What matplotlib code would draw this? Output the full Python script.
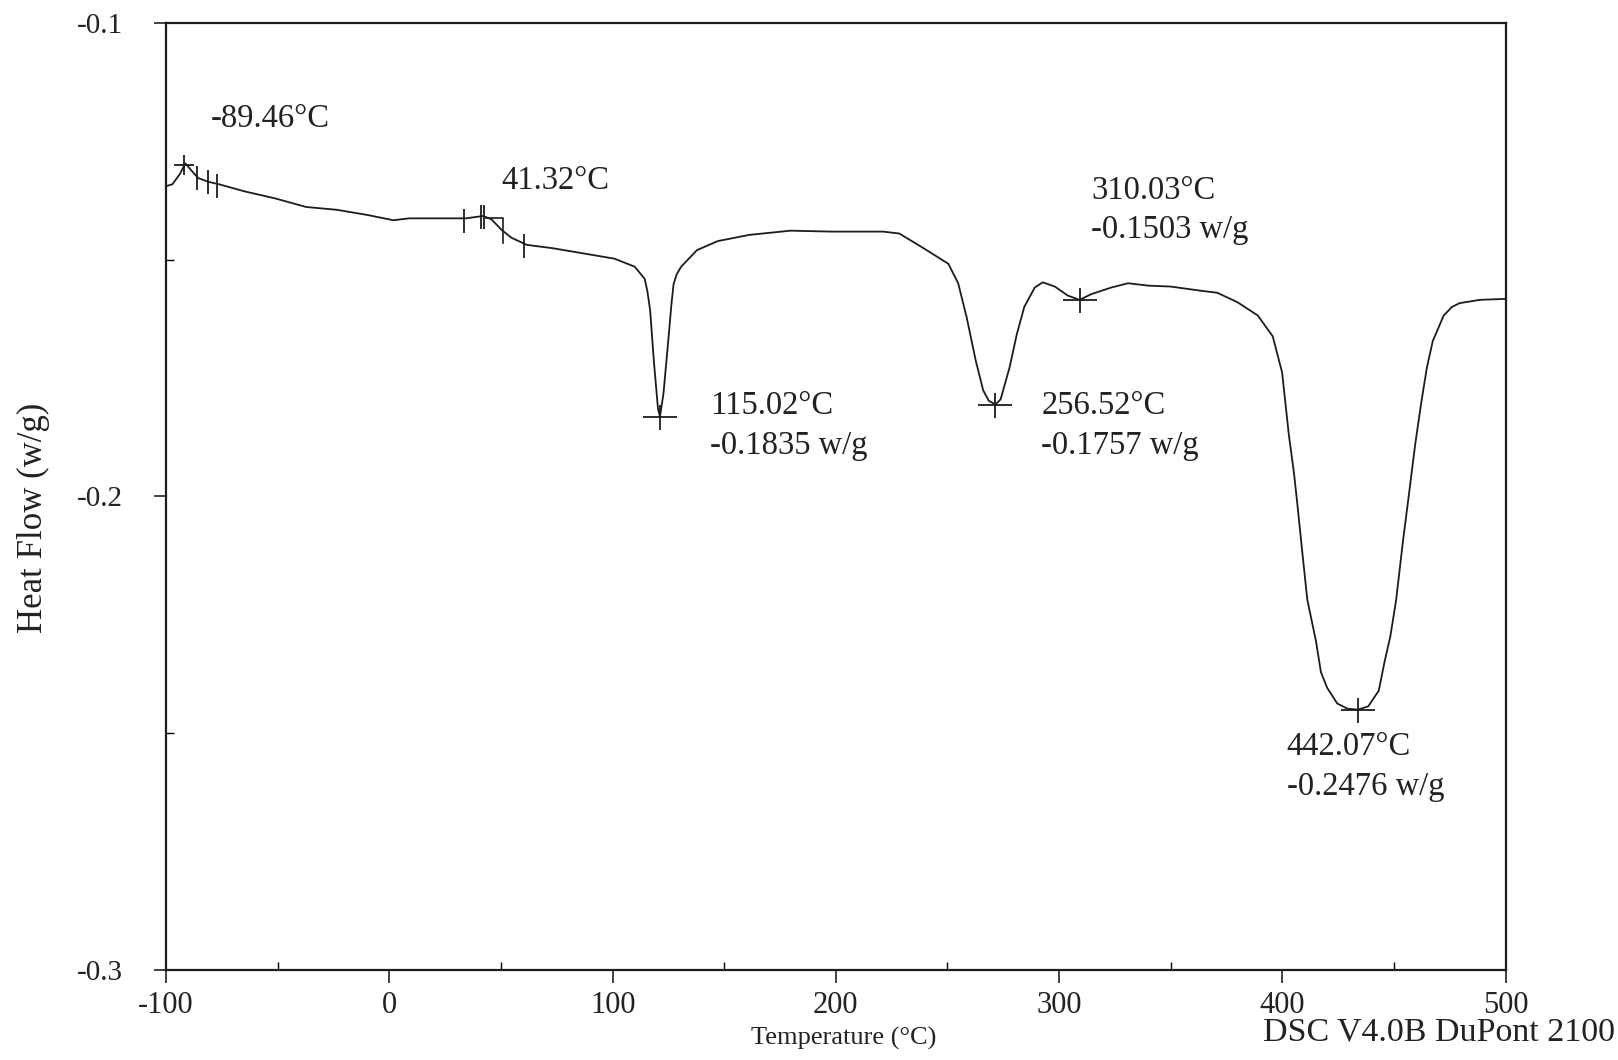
import matplotlib.pyplot as plt
import numpy as np
from matplotlib.path import Path

# DSC trace
temps = [-100, -97.2, -93.8, -91.4, -88.7, -85.6, -81.0, -76.4, -64.9, -51.1,
         -37.3, -23.5, -9.7, 1.8, 8.8, 22.6, 34.2, 42.0, 45.7, 50.2,
         54.7, 61.6, 73.1, 86.9, 100.7, 109.9, 114.4, 115.6, 116.8, 118.5,
         120.3, 121.2, 122.8, 125.3, 126.3, 127.3, 128.7, 130.7, 137.8, 147.1,
         161.1, 179.6, 198.1, 221.2, 228.4, 238.6, 250.4, 254.8, 258.6, 262.7,
         266.0, 268.5, 271.5, 273.8, 277.8, 281.1, 284.4, 289.1, 292.7, 298.1,
         303.9, 309.2, 314.4, 323.4, 330.9, 339.9, 350.0, 363.8, 370.8, 379.9,
         389.0, 395.7, 399.9, 402.9, 405.2, 406.6, 409.0, 411.2, 415.1, 417.3,
         420.1, 424.6, 429.2, 433.8, 438.5, 440.9, 443.2, 445.8, 448.4, 451.0,
         453.9, 456.6, 459.5, 462.2, 464.8, 467.4, 472.3, 476.0, 479.4, 488.5,
         500]
heat_flow = [-0.1345, -0.1341, -0.1319, -0.1297, -0.1312, -0.1328, -0.1336, -0.1341, -0.1356, -0.1371,
             -0.1389, -0.1395, -0.1406, -0.1417, -0.1413, -0.1413, -0.1413, -0.1408, -0.1415, -0.1437,
             -0.1454, -0.1469, -0.1476, -0.1487, -0.1498, -0.1515, -0.1541, -0.1568, -0.1607, -0.1716,
             -0.1814, -0.1832, -0.1782, -0.1651, -0.1596, -0.1552, -0.1531, -0.1515, -0.1480, -0.1461,
             -0.1448, -0.1439, -0.1441, -0.1441, -0.1445, -0.1474, -0.1509, -0.1550, -0.1622, -0.1714,
             -0.1776, -0.1798, -0.1806, -0.1795, -0.1728, -0.1657, -0.1600, -0.1559, -0.1548, -0.1557,
             -0.1576, -0.1585, -0.1573, -0.1559, -0.1550, -0.1555, -0.1557, -0.1566, -0.1570, -0.1590,
             -0.1618, -0.1662, -0.1738, -0.1869, -0.1950, -0.2010, -0.2120, -0.2218, -0.2306, -0.2371,
             -0.2404, -0.2437, -0.2448, -0.2450, -0.2443, -0.2426, -0.2410, -0.2349, -0.2295, -0.2218,
             -0.2100, -0.2000, -0.1891, -0.1803, -0.1727, -0.1672, -0.1618, -0.1600, -0.1592, -0.1585,
             -0.1583]

# peak crosses
peak_temps = [121.2, 271.5, 309.2, 433.8]
peak_flows = [-0.1832, -0.1806, -0.1585, -0.2450]

# glass transition marks
tg_temps = [-86.3, -81.1, -77.4, 33.2, 41.1, 42.5, 60.1]
tg_flows = [-0.1328, -0.1337, -0.1344, -0.1418, -0.1410, -0.1410, -0.1471]
tg_mid_temp = [-91.9]
tg_mid_flow = [-0.1301]
step_temps = [43.4, 50.8, 50.8]
step_flows = [-0.1413, -0.1413, -0.1465]

# annotations
labels = ["-89.46°C", "41.32°C", "310.03°C\n-0.1503 w/g", "115.02°C\n-0.1835 w/g",
          "256.52°C\n-0.1757 w/g", "442.07°C\n-0.2476 w/g"]
label_temps = [-80.2, 50.3, 314.4, 143.5, 292.0, 402.0]
label_flows = [-0.1203, -0.1334, -0.1396, -0.1851, -0.1850, -0.2571]

serif = ['Liberation Serif', 'DejaVu Serif']
ink = '#1c1c1c'

fig = plt.figure(figsize=(16.18, 10.60), dpi=100)
ax = fig.add_axes([0.1027, 0.0847, 0.8278, 0.8939])

ax.plot(temps, heat_flow, color=ink, lw=1.3)

cross = Path([(-1, 0), (1, 0), (0, -0.75), (0, 0.75)],
             [Path.MOVETO, Path.LINETO, Path.MOVETO, Path.LINETO])
ax.plot(peak_temps, peak_flows, ls='none', marker=cross, ms=24, mew=1.3, color=ink)
ax.plot(tg_temps, tg_flows, ls='none', marker='|', ms=17, mew=1.3, color=ink)
ax.plot(tg_mid_temp, tg_mid_flow, ls='none', marker='+', ms=14, mew=1.3, color=ink)
ax.plot(step_temps, step_flows, color=ink, lw=1.2)

for txt, tx, ty in zip(labels, label_temps, label_flows):
    ax.text(tx, ty, txt, family=serif, fontsize=23.5, color='#222222',
            ha='left', va='center', linespacing=1.4)

ax.set_xlim(-100, 500)
ax.set_ylim(-0.3, -0.1)
ax.set_xticks(np.arange(-100, 501, 100))
ax.set_xticklabels(['-100', '0', '100', '200', '300', '400', '500'])
ax.set_xticks(np.arange(-50, 500, 100), minor=True)
ax.set_yticks([-0.3, -0.2, -0.1])
ax.set_yticklabels(['-0.3', '-0.2', '-0.1'])
ax.set_yticks([-0.25, -0.15], minor=True)
ax.tick_params(axis='x', which='major', direction='out', length=9, width=1.2,
               labelsize=22, pad=6, colors='#222222')
ax.tick_params(axis='y', which='major', direction='out', length=9, width=1.2,
               labelsize=21, pad=22, colors='#222222')
ax.tick_params(axis='both', which='minor', direction='in', length=6, width=1)
for lab in ax.get_xticklabels() + ax.get_yticklabels():
    lab.set_family(serif)

for sp in ax.spines.values():
    sp.set_linewidth(1.6)
    sp.set_color(ink)

ax.set_xlabel('Temperature (°C)', family=serif, fontsize=19, color='#222222')
ax.xaxis.set_label_coords(0.506, -0.060)
ax.set_ylabel('Heat Flow (w/g)', family=serif, fontsize=25, color='#222222')
ax.yaxis.set_label_coords(-0.087, 0.477)
fig.text(0.998, 0.026, 'DSC V4.0B DuPont 2100', family=serif, fontsize=24.5,
         color='#222222', ha='right', va='center')

fig.savefig('out.png', dpi=100)
